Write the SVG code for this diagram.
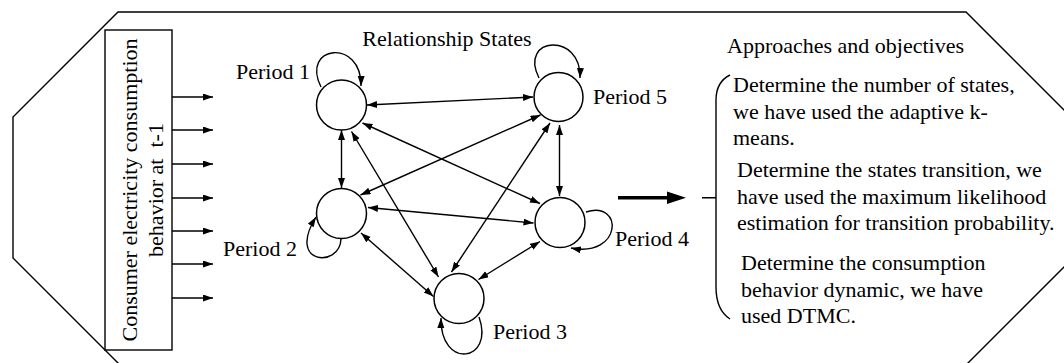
<svg xmlns="http://www.w3.org/2000/svg" width="1064" height="363" viewBox="0 0 1064 363">
<style>
text{font-family:"Liberation Serif","Times New Roman",serif;font-size:22px;fill:#000}
.ln{stroke:#000;stroke-width:1.4;fill:none}
.node{stroke:#000;stroke-width:1.5;fill:#fff}
.bi{marker-start:url(#ah);marker-end:url(#ah)}
.one{marker-end:url(#ah)}
</style>
<defs>
<marker id="ah" markerUnits="userSpaceOnUse" markerWidth="11" markerHeight="8" refX="10" refY="3.5" orient="auto-start-reverse">
<path d="M0,0 L10,3.5 L0,7 Z" fill="#000"/>
</marker>
</defs>
<rect width="1064" height="363" fill="#fff"/>
<g id="frame">
<polygon points="118,12 966,12 1080,126 1080,251 966,365 120,365 13,258 13,117" class="ln"/>
</g>
<g id="input-box">
<rect x="105" y="30" width="67" height="320" class="ln"/>
<text transform="translate(137,190) rotate(-90)" text-anchor="middle">Consumer electricity consumption</text>
<text transform="translate(163,190) rotate(-90)" text-anchor="middle" xml:space="preserve">behavior at  t-1</text>
</g>
<g id="input-arrows">
<line x1="172" y1="97" x2="213" y2="97" class="ln one"/>
<line x1="172" y1="130" x2="213" y2="130" class="ln one"/>
<line x1="172" y1="164" x2="213" y2="164" class="ln one"/>
<line x1="172" y1="198" x2="213" y2="198" class="ln one"/>
<line x1="172" y1="231" x2="213" y2="231" class="ln one"/>
<line x1="172" y1="264" x2="213" y2="264" class="ln one"/>
<line x1="172" y1="298" x2="213" y2="298" class="ln one"/>
</g>
<text x="447" y="46" text-anchor="middle">Relationship States</text>
<g id="connectors">
<line x1="367" y1="105" x2="533" y2="97" class="ln bi"/>
<line x1="341.5" y1="130" x2="341.5" y2="188" class="ln bi"/>
<line x1="351.5" y1="131.5" x2="438.5" y2="277" class="ln bi"/>
<line x1="362.5" y1="123" x2="540" y2="203.5" class="ln bi"/>
<line x1="540.5" y1="115" x2="360.5" y2="195" class="ln bi"/>
<line x1="550" y1="123" x2="451.5" y2="272" class="ln bi"/>
<line x1="559.5" y1="125" x2="559.5" y2="196" class="ln bi"/>
<line x1="368" y1="207.5" x2="533.5" y2="223" class="ln bi"/>
<line x1="361" y1="233" x2="433.5" y2="296.5" class="ln bi"/>
<line x1="540" y1="241.5" x2="478.5" y2="279.5" class="ln bi"/>
<path d="M321,87 C300,45 362,38 361,86" class="ln one"/>
<path d="M539,78 C518,36 582,32 580,78" class="ln one"/>
<path d="M341,239 C340,268 286,265 316,217" class="ln one"/>
<path d="M586,212 C624,200 622,258 571,248" class="ln one"/>
<path d="M479,317 C495,362 440,370 441,318" class="ln one"/>
</g>
<g id="period1"><circle cx="341.5" cy="105" r="25" class="node"/><text x="236" y="79">Period 1</text></g>
<g id="period5"><circle cx="558.5" cy="97" r="24.5" class="node"/><text x="593" y="104">Period 5</text></g>
<g id="period2"><circle cx="341.5" cy="213.5" r="25" class="node"/><text x="223" y="256">Period 2</text></g>
<g id="period4"><circle cx="560" cy="222.5" r="25" class="node"/><text x="615" y="246">Period 4</text></g>
<g id="period3"><circle cx="459" cy="298.5" r="25" class="node"/><text x="493" y="339">Period 3</text></g>
<g id="big-arrow">
<line x1="618" y1="197.7" x2="669" y2="197.7" stroke="#000" stroke-width="3.5"/>
<polygon points="667,191.5 686,197.7 667,204" fill="#000"/>
</g>
<g id="approaches">
<text x="727" y="53">Approaches and objectives</text>
<path d="M702,197.7 L716,197.7 M730,75 Q716,82 716,100 L716,287 Q716,310 730,319" class="ln"/>
<text x="733" y="92">Determine the number of states,</text>
<text x="733" y="118.5">we have used the adaptive k-</text>
<text x="733" y="145">means.</text>
<text x="737" y="177">Determine the states transition, we</text>
<text x="737" y="203.5">have used the maximum likelihood</text>
<text x="737" y="230">estimation for transition probability.</text>
<text x="741" y="270">Determine the consumption</text>
<text x="741" y="296.5">behavior dynamic, we have</text>
<text x="741" y="323">used DTMC.</text>
</g>
</svg>
